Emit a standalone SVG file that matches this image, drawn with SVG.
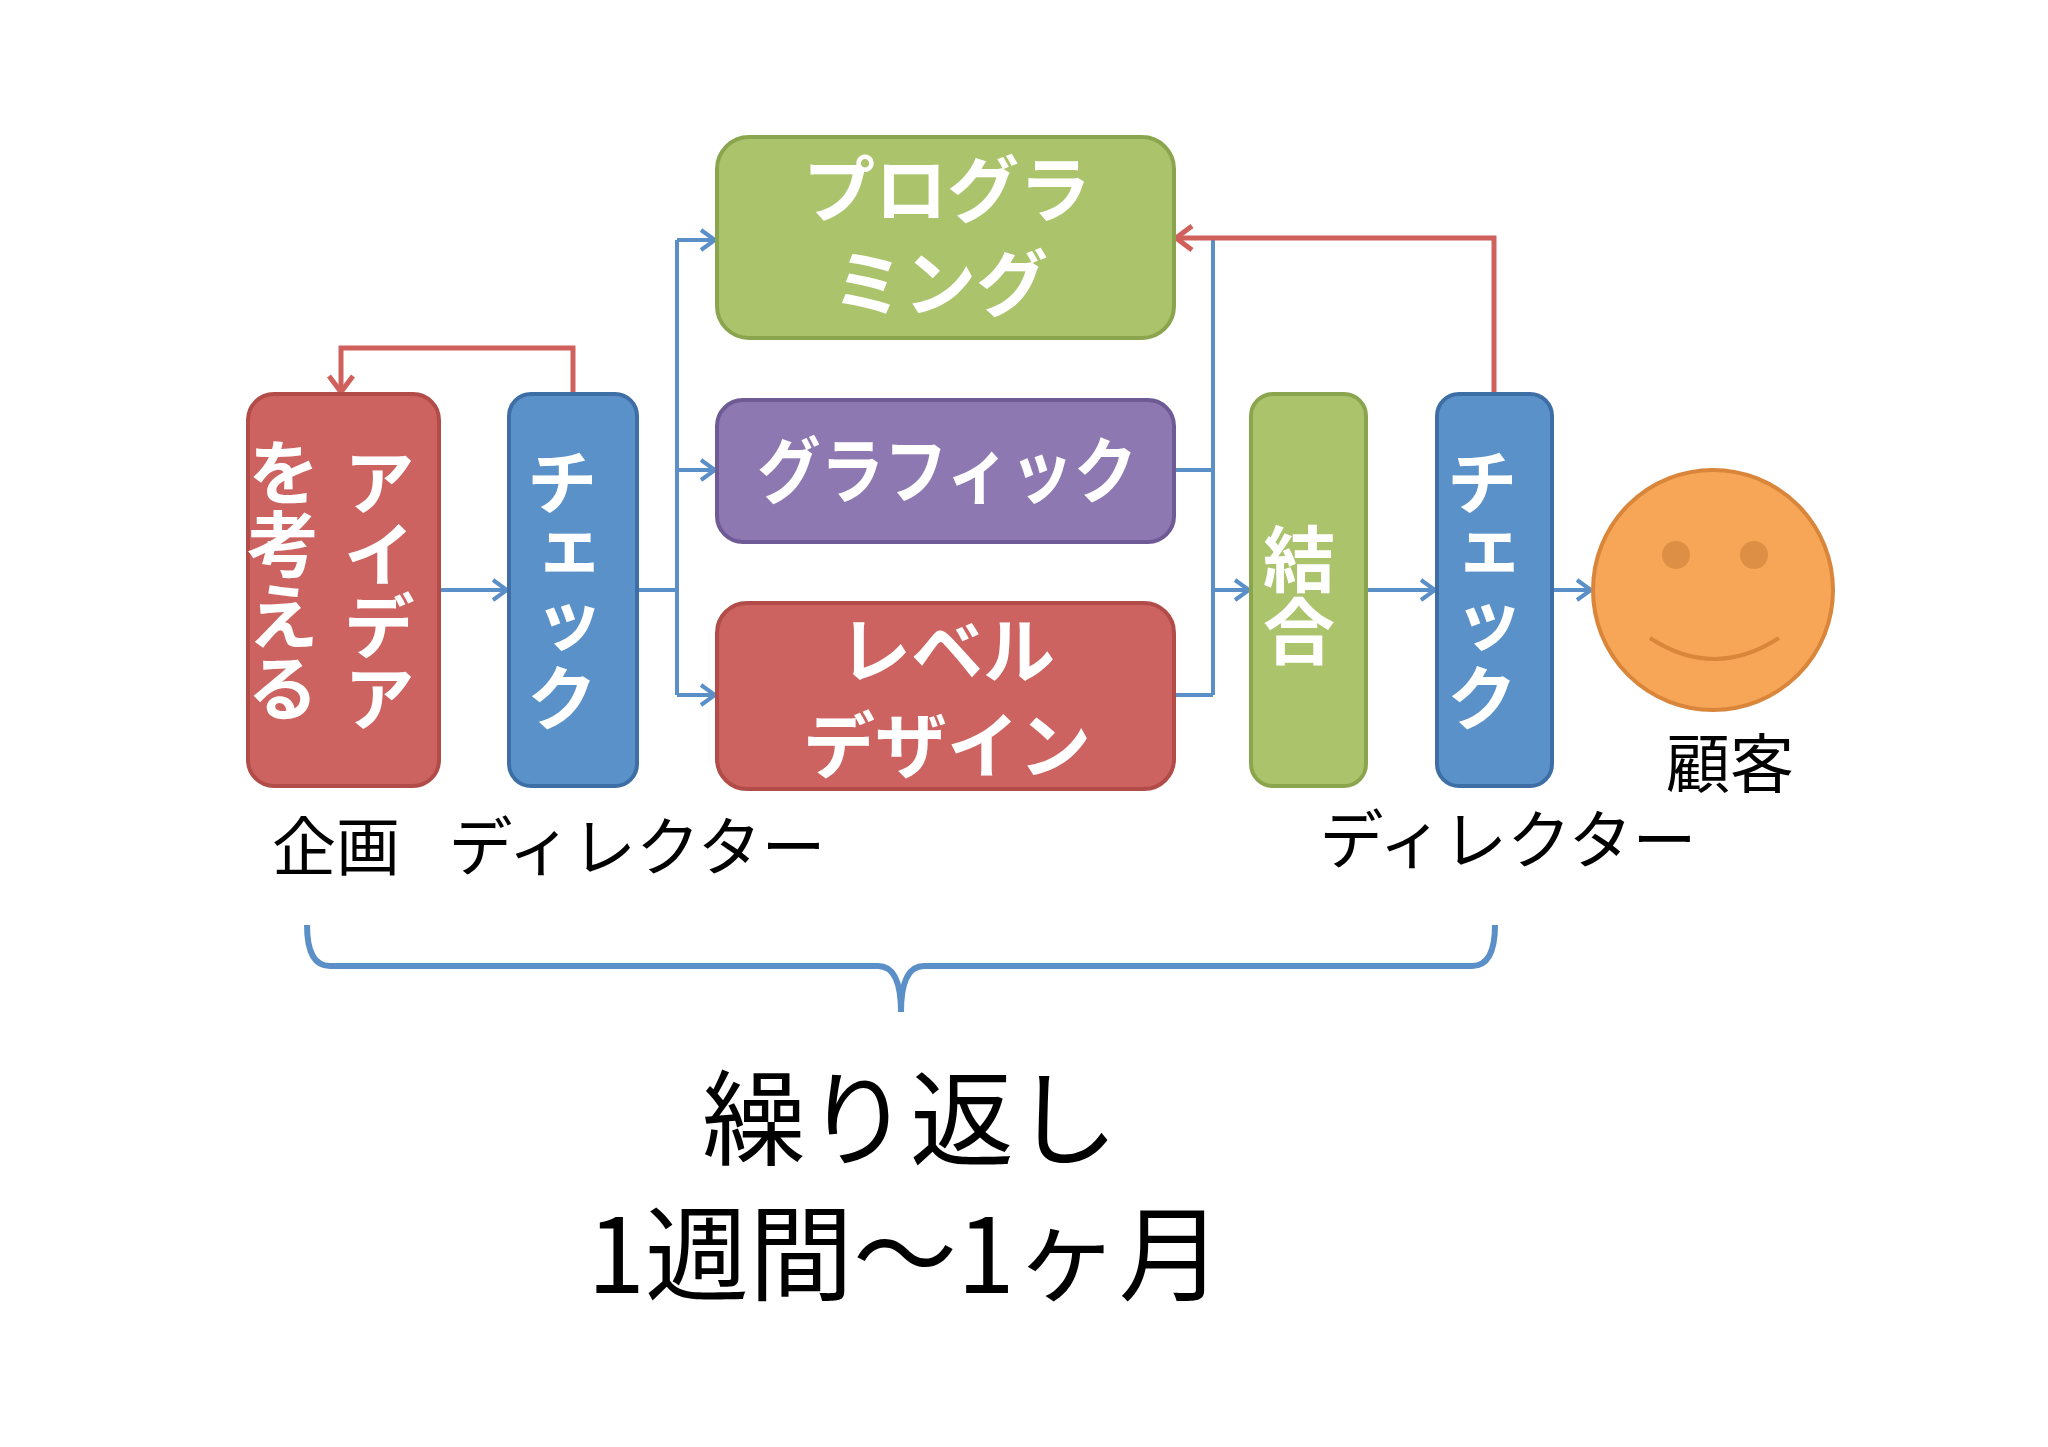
<svg xmlns="http://www.w3.org/2000/svg" width="2048" height="1447" viewBox="0 0 2048 1447">
<style>
.w{fill:#fff;font-family:"Noto Sans CJK JP","Noto Sans",sans-serif;font-weight:bold;font-size:72px;text-anchor:middle}
.v{writing-mode:vertical-rl}
.k{fill:#000;font-family:"Noto Sans CJK JP","Noto Sans",sans-serif;font-size:64px;text-anchor:middle}
.b{fill:none;stroke:#5b8fc8;stroke-width:4}
.r{fill:none;stroke:#d0605c;stroke-width:5}
</style>
<defs>
<marker id="ab" viewBox="-20 -15 25 30" refX="0" refY="0" markerWidth="25" markerHeight="30" orient="auto" markerUnits="userSpaceOnUse"><path d="M-14,-10 L0,0 L-14,10" fill="none" stroke="#5b8fc8" stroke-width="4"/></marker>
<marker id="ar" viewBox="-20 -15 25 30" refX="0" refY="0" markerWidth="25" markerHeight="30" orient="auto" markerUnits="userSpaceOnUse"><path d="M-16,-12 L0,0 L-16,12" fill="none" stroke="#d0605c" stroke-width="5"/></marker>
</defs>
<rect width="2048" height="1447" fill="#fff"/>
<g id="connectors">
<path class="b" d="M439,590 H507" marker-end="url(#ab)"/>
<path class="b" d="M637,590 H677 M677,240 V695"/>
<path class="b" d="M677,240 H715" marker-end="url(#ab)"/>
<path class="b" d="M677,470 H715" marker-end="url(#ab)"/>
<path class="b" d="M677,695 H715" marker-end="url(#ab)"/>
<path class="b" d="M1174,470 H1213 M1174,695 H1213 M1213,240 V695"/>
<path class="b" d="M1213,590 H1249" marker-end="url(#ab)"/>
<path class="b" d="M1366,590 H1435" marker-end="url(#ab)"/>
<path class="b" d="M1552,590 H1591" marker-end="url(#ab)"/>
<path class="r" d="M573,394 V348 H341 V392" marker-end="url(#ar)"/>
<path class="r" d="M1494,394 V238 H1176" marker-end="url(#ar)"/>
</g>
<g id="idea"><rect x="248" y="394" width="191" height="392" rx="26" fill="#cc6360" stroke="#b24c49" stroke-width="4"/>
<text class="w v" x="379" y="590">アイデア</text><text class="w v" x="283" y="580">を考える</text></g>
<g id="check1"><rect x="509" y="394" width="128" height="392" rx="22" fill="#5b91c9" stroke="#3e6ea6" stroke-width="4"/>
<text class="w v" x="562" y="590">チェック</text></g>
<g id="programming"><rect x="717" y="137" width="457" height="201" rx="32" fill="#abc46c" stroke="#8aa54e" stroke-width="4"/>
<text class="w" x="947" y="216">プログラ</text><text class="w" x="940" y="310">ミング</text></g>
<g id="graphic"><rect x="717" y="400" width="457" height="142" rx="26" fill="#8d78b1" stroke="#6e5a94" stroke-width="4"/>
<text class="w" x="947" y="497" textLength="380" lengthAdjust="spacingAndGlyphs">グラフィック</text></g>
<g id="level"><rect x="717" y="603" width="457" height="186" rx="30" fill="#cc6360" stroke="#b24c49" stroke-width="4"/>
<text class="w" x="947" y="677">レベル</text><text class="w" x="947" y="772">デザイン</text></g>
<g id="merge"><rect x="1251" y="394" width="115" height="392" rx="22" fill="#abc46c" stroke="#8aa54e" stroke-width="4"/>
<text class="w v" x="1299" y="595">結合</text></g>
<g id="check2"><rect x="1437" y="394" width="115" height="392" rx="22" fill="#5b91c9" stroke="#3e6ea6" stroke-width="4"/>
<text class="w v" x="1482" y="590">チェック</text></g>
<g id="customer"><circle cx="1713" cy="590" r="120" fill="#f6a656" stroke="#d9853a" stroke-width="4"/>
<circle cx="1676" cy="555" r="14" fill="#dd8f45"/><circle cx="1754" cy="555" r="14" fill="#dd8f45"/>
<path d="M1650,638 Q1714,680 1779,638" fill="none" stroke="#d9853a" stroke-width="4"/>
<text class="k" x="1730" y="787">顧客</text></g>
<g id="labels">
<text class="k" x="336" y="870">企画</text>
<text class="k" x="637" y="870">ディレクター</text>
<text class="k" x="1508" y="863">ディレクター</text>
<path d="M307,925 Q307,966 330,966 H878 Q901,966 901,1012 Q901,966 924,966 H1472 Q1495,966 1495,925" fill="none" stroke="#5b8fc8" stroke-width="6"/>
<text class="k" style="font-size:104px" x="910" y="1158">繰り返し</text>
<text class="k" style="font-size:104px" x="905" y="1293">1週間～1ヶ月</text>
</g>
</svg>
